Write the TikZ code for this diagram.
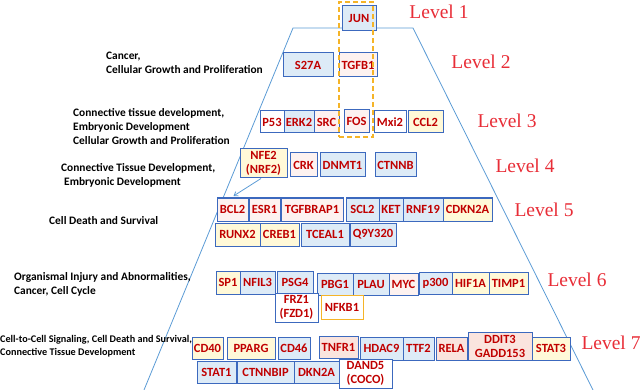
\documentclass[tikz,border=0pt]{standalone}
\usepackage{fontspec}
\setmainfont{Carlito}
\newfontfamily\lvlfont{Liberation Serif}
\usetikzlibrary{arrows.meta,calc}
\definecolor{gblue}{RGB}{221,235,247}
\definecolor{gyellow}{RGB}{255,249,216}
\definecolor{gpink}{RGB}{250,228,222}
\definecolor{gpale}{RGB}{253,242,240}
\definecolor{gborder}{RGB}{60,105,190}
\definecolor{gred}{RGB}{192,0,0}
\definecolor{lvlred}{RGB}{232,45,55}
\definecolor{tline}{RGB}{91,155,213}
\definecolor{dorange}{RGB}{245,180,40}
\newcommand{\gbx}[7]{\node[gbox,fill=#6,minimum width={(#4-#2)*1pt},minimum height={(#5-#3)*1pt}] (#1) at ({(#2+#4)/2},{(#3+#5)/2}) {#7};}
\begin{document}
\begin{tikzpicture}[x=1pt,y=-1pt,
  gbox/.style={draw=gborder,line width=1pt,inner sep=0pt,font=\bfseries\fontsize{12.5}{14}\selectfont,text=gred,align=center},
  lvl/.style={font=\lvlfont\fontsize{19.5}{22}\selectfont,text=lvlred,inner sep=0pt},
  cat/.style={font=\bfseries\fontsize{11.4}{14}\selectfont,align=left,anchor=west,inner sep=0pt},
  trap/.style={draw=tline,line width=0.8pt}]
\useasboundingbox (0,0) rectangle (642,390);
% trapezoid
\coordinate (tl) at (293,28);
\coordinate (tr) at (413,28);
\coordinate (bl) at (144,390);
\coordinate (br) at (593,390);
\draw[trap] (bl) -- (tl) -- (tr) -- (br);
% level labels
\node[lvl] (l1) at (439,12) {Level 1};
\node[lvl] (l2) at (481,62) {Level 2};
\node[lvl] (l3) at (507,121) {Level 3};
\node[lvl] (l4) at (525,166) {Level 4};
\node[lvl] (l5) at (544,210) {Level 5};
\node[lvl] (l6) at (577,280) {Level 6};
\node[lvl] (l7) at (611,343) {Level 7};
% category labels
\node[cat] (c1) at (106,62.5) {Cancer,\\Cellular Growth and Proliferation};
\node[cat] (c2) at (73,127) {Connective tissue development,\\Embryonic Development\\Cellular Growth and Proliferation};
\node[cat] (c3) at (61,175) {Connective Tissue Development,\\\hspace{3pt}Embryonic Development};
\node[cat] (c4) at (49,221) {Cell Death and Survival};
\node[cat] (c5) at (14,284.5) {Organismal Injury and Abnormalities,\\Cancer, Cell Cycle};
\node[cat,font=\bfseries\fontsize{10.2}{12.5}\selectfont] (c6) at (0,346) {Cell-to-Cell Signaling, Cell Death and Survival,\\Connective Tissue Development};
% level 1-2
\gbx{jun}{342}{6}{376}{31}{gblue}{JUN}
\gbx{s27a}{283}{53}{333}{77}{gblue}{S27A}
\gbx{tgfb1}{339}{53}{377}{77}{gpale}{TGFB1}
% level 3
\gbx{p53}{260}{111}{284}{133}{white}{P53}
\gbx{erk2}{284}{111}{314}{133}{gblue}{ERK2}
\gbx{src}{314}{111}{339}{133}{gpale}{SRC}
\gbx{fos}{344}{110}{369}{133}{gpale}{FOS}
\gbx{mxi2}{374}{111}{406}{133}{white}{Mxi2}
\gbx{ccl2}{408}{111}{443}{133}{gyellow}{CCL2}
% level 4
\gbx{nfe2}{240}{149}{287}{178}{gyellow}{NFE2\\(NRF2)}
\gbx{crk}{290}{153}{317}{177}{gpale}{CRK}
\gbx{dnmt1}{320}{153}{365}{177}{gblue}{DNMT1}
\gbx{ctnnb}{375}{153}{416}{177}{gblue}{CTNNB}
% level 5
\gbx{bcl2}{217}{198}{248}{221}{gpale}{BCL2}
\gbx{esr1}{249}{198}{280}{221}{gpale}{ESR1}
\gbx{tgfbrap1}{281}{198}{343}{221}{gpale}{TGFBRAP1}
\gbx{scl2}{346}{198}{379}{221}{gblue}{SCL2}
\gbx{ket}{379}{198}{403}{221}{gblue}{KET}
\gbx{rnf19}{403}{198}{443}{221}{gblue}{RNF19}
\gbx{cdkn2a}{443}{198}{492}{221}{gyellow}{CDKN2A}
\gbx{runx2}{215}{223}{260}{246}{gyellow}{RUNX2}
\gbx{creb1}{260}{223}{299}{246}{gyellow}{CREB1}
\gbx{tceal1}{301}{223}{349}{246}{gblue}{TCEAL1}
\gbx{q9y320}{350}{223}{396}{246}{gblue}{Q9Y320}
% level 6
\gbx{sp1}{216}{271}{240}{294}{gyellow}{SP1}
\gbx{nfil3}{240}{271}{275}{294}{gblue}{NFIL3}
\gbx{psg4}{277}{271}{313}{294}{gblue}{PSG4}
\gbx{pbg1}{317}{273}{353}{295}{gblue}{PBG1}
\gbx{plau}{353}{273}{389}{295}{gblue}{PLAU}
\gbx{myc}{389}{273}{418}{295}{gpale}{MYC}
\gbx{p300}{419}{272}{452}{294}{gblue}{p300}
\gbx{hif1a}{452}{272}{489}{294}{gyellow}{HIF1A}
\gbx{timp1}{489}{272}{528}{294}{gyellow}{TIMP1}
\gbx{frz1}{275}{293}{318}{322}{white}{FRZ1\\(FZD1)}
\node[gbox,draw=dorange,fill=white,minimum width=42pt,minimum height=24pt] (nfkb1) at (342,307) {NFKB1};
% level 7
\gbx{cd40}{192}{337}{223}{359}{gyellow}{CD40}
\gbx{pparg}{227}{337}{275}{359}{gyellow}{PPARG}
\gbx{cd46}{278}{337}{310}{359}{gblue}{CD46}
\gbx{tnfr1}{319}{336}{358}{358}{gpink}{TNFR1}
\gbx{hdac9}{360}{337}{403}{360}{gblue}{HDAC9}
\gbx{ttf2}{403}{337}{434}{360}{gblue}{TTF2}
\gbx{rela}{436}{337}{467}{360}{gpink}{RELA}
\gbx{ddit3}{468}{332}{532}{360}{gpink}{DDIT3\\GADD153}
\gbx{stat3}{532}{337}{570}{360}{gyellow}{STAT3}
\gbx{stat1}{197}{361}{236}{383}{gblue}{STAT1}
\gbx{ctnnbip}{237}{361}{294}{383}{gblue}{CTNNBIP}
\gbx{dkn2a}{294}{361}{339}{383}{gblue}{DKN2A}
\gbx{dand5}{339}{359}{392}{388}{white}{DAND5\\(COCO)}
% arrow NFE2 -> BCL2
\draw[trap,-{Straight Barb[length=3.5pt,width=5pt]}] ([xshift=-2.5pt]nfe2.south) -- ([xshift=17pt,yshift=1.5pt]bcl2.north west);
% orange dashed frame
\node[draw=dorange,line width=1.5pt,dash pattern=on 5pt off 3pt,minimum width=34pt,minimum height=135pt,inner sep=0pt] (frame) at (356,69.5) {};
\end{tikzpicture}
\end{document}
